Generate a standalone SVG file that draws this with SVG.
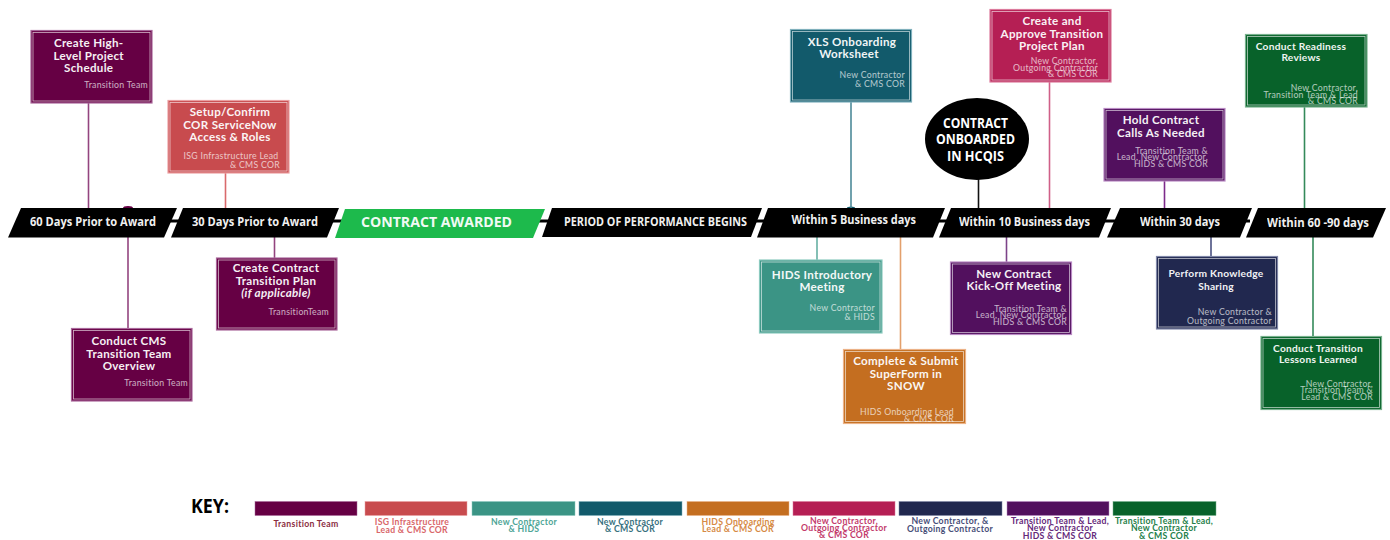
<svg xmlns="http://www.w3.org/2000/svg" width="1390" height="540" viewBox="0 0 1390 540">
<style>
text{font-family:Lato,"Liberation Sans",sans-serif}
.t{font-size:11.6px;letter-spacing:.3px;font-weight:700;fill:#fff;text-anchor:middle;opacity:.94}
.ts{font-size:10.2px;letter-spacing:.25px}
.s{font-size:8.7px;letter-spacing:.3px;fill:#fff;opacity:.68;text-anchor:end}
.o{stroke-width:1.2}
.i{fill:none;stroke:#fff;stroke-width:.8;stroke-opacity:.7}
.bar{font-family:"Open Sans","Liberation Sans",sans-serif;font-weight:700;fill:#fff;font-size:12.5px;opacity:.94}
.c{font-family:"Open Sans","Liberation Sans",sans-serif;font-weight:700;fill:#fff;font-size:14.5px}
.k{font-size:8.7px;letter-spacing:.3px;font-weight:700;text-anchor:middle}
.l{fill:none;stroke-width:1.6}
.a{fill:#660044;stroke:#a8679a}
.b{fill:#c84b4e;stroke:#eba0a2}
.d{fill:#3b9485;stroke:#8ccabf}
.e{fill:#125a6b;stroke:#7fb0bc}
.f{fill:#c46e20;stroke:#ecb287}
.g{fill:#b51f54;stroke:#dc7a9c}
.h{fill:#21284f;stroke:#8087a8}
.j{fill:#52105e;stroke:#b98ac4}
.m{fill:#08622a;stroke:#77b18d}
</style>
<g id="connectors">
<line x1="160" y1="221" x2="1250" y2="221" stroke="#000" stroke-width="3"/>
<ellipse cx="128" cy="208" rx="5" ry="2" fill="#660044"/>
<ellipse cx="851" cy="208" rx="4" ry="1.5" fill="#125a6b"/>
<line class="l" x1="88.500" y1="103" x2="88.500" y2="208" stroke="#93457f"/>
<line class="l" x1="128" y1="237" x2="128" y2="328" stroke="#93457f"/>
<line class="l" x1="225.500" y1="173" x2="225.500" y2="208" stroke="#d96a6c"/>
<line class="l" x1="274.500" y1="237" x2="274.500" y2="258" stroke="#93457f"/>
<line class="l" x1="851" y1="102" x2="851" y2="208" stroke="#4d8a99"/>
<line class="l" x1="817" y1="237" x2="817" y2="260" stroke="#66b0a3"/>
<line class="l" x1="900.500" y1="237" x2="900.500" y2="349" stroke="#e3a06c"/>
<line class="l" x1="978.500" y1="178" x2="978.500" y2="208" stroke="#111"/>
<line class="l" x1="1049.500" y1="82" x2="1049.500" y2="208" stroke="#cf5f88"/>
<line class="l" x1="1006.500" y1="237" x2="1006.500" y2="262" stroke="#7d4389"/>
<line class="l" x1="1164.500" y1="181" x2="1164.500" y2="208" stroke="#7d2b8b"/>
<line class="l" x1="1211" y1="237" x2="1211" y2="256" stroke="#4a5180"/>
<line class="l" x1="1304.500" y1="107" x2="1304.500" y2="208" stroke="#348a5a"/>
<line class="l" x1="1313" y1="237" x2="1313" y2="336" stroke="#348a5a"/>
</g>
<g id="bar-60">
<polygon points="21,208 177,208 164,237.500 8,237.500" fill="#000"/>
<text class="bar" x="30" y="225.500" textLength="126" lengthAdjust="spacingAndGlyphs">60 Days Prior to Award</text></g>
<g id="bar-30">
<polygon points="183,208 339,208 327,237.500 171,237.500" fill="#000"/>
<text class="bar" x="192" y="225.500" textLength="126" lengthAdjust="spacingAndGlyphs">30 Days Prior to Award</text></g>
<g id="bar-awarded">
<polygon points="345,209 545,209 533,238 335,238" fill="#1dba4c"/>
<text class="bar" x="361" y="227" style="font-size:15px" textLength="151" lengthAdjust="spacingAndGlyphs">CONTRACT AWARDED</text></g>
<g id="bar-period">
<polygon points="552,208 762,208 751,237 542,237" fill="#000"/>
<text class="bar" x="564" y="226" style="font-size:12px" textLength="183" lengthAdjust="spacingAndGlyphs">PERIOD OF PERFORMANCE BEGINS</text></g>
<g id="bar-5">
<polygon points="768,208 945,208 933,237.500 757,237.500" fill="#000"/>
<text class="bar" x="791.500" y="224" textLength="124.500" lengthAdjust="spacingAndGlyphs">Within 5 Business days</text></g>
<g id="bar-10">
<polygon points="951,208 1111,208 1099,237.500 939,237.500" fill="#000"/>
<text class="bar" x="959" y="225.500" textLength="131" lengthAdjust="spacingAndGlyphs">Within 10 Business days</text></g>
<g id="bar-30d">
<polygon points="1120,208 1252,208 1240,237.500 1107,237.500" fill="#000"/>
<text class="bar" x="1140" y="226" textLength="80" lengthAdjust="spacingAndGlyphs">Within 30 days</text></g>
<g id="bar-60-90">
<polygon points="1258,208 1386,208 1373,237.500 1246,237.500" fill="#000"/>
<text class="bar" x="1267" y="227" textLength="102" lengthAdjust="spacingAndGlyphs">Within 60 -90 days</text></g>
<g id="onboarded">
<ellipse cx="977" cy="139" rx="52" ry="41" fill="#000"/>
<text class="c" x="943" y="128" textLength="65" lengthAdjust="spacingAndGlyphs">CONTRACT</text>
<text class="c" x="936" y="144" textLength="79" lengthAdjust="spacingAndGlyphs">ONBOARDED</text>
<text class="c" x="947" y="161" textLength="57" lengthAdjust="spacingAndGlyphs">IN HCQIS</text>
</g>
<g id="n-schedule"><rect class="o a" x="31" y="30.500" width="121" height="72.500"/><rect class="i" x="33" y="32.500" width="117" height="68.500"/>
<text class="t" x="88.700" y="47">Create High-</text><text class="t" x="88.700" y="59.500">Level Project</text><text class="t" x="88.700" y="72">Schedule</text>
<text class="s" x="148" y="88">Transition Team</text></g>
<g id="n-overview"><rect class="o a" x="71.500" y="328.500" width="120.500" height="72.500"/><rect class="i" x="73.500" y="330.500" width="116.500" height="68.500"/>
<text class="t" x="129" y="345">Conduct CMS</text><text class="t" x="129" y="357.500">Transition Team</text><text class="t" x="129" y="370">Overview</text>
<text class="s" x="188" y="386">Transition Team</text></g>
<g id="n-access"><rect class="o b" x="168" y="100.500" width="121" height="72.500"/><rect class="i" x="170" y="102.500" width="117" height="68.500"/>
<text class="t" x="230" y="116">Setup/Confirm</text><text class="t" x="230" y="128.500">COR ServiceNow</text><text class="t" x="230" y="141">Access &amp; Roles</text>
<text class="s" x="278.500" y="159">ISG Infrastructure Lead</text><text class="s" x="280" y="167.500">&amp; CMS COR</text></g>
<g id="n-plan"><rect class="o a" x="216.500" y="258" width="120.500" height="72"/><rect class="i" x="218.500" y="260" width="116.500" height="68"/>
<text class="t" x="276" y="272">Create Contract</text><text class="t" x="276" y="284.500">Transition Plan</text><text class="t" x="276" y="297" font-style="italic">(if applicable)</text>
<text class="s" x="329" y="315">TransitionTeam</text></g>
<g id="n-xls"><rect class="o e" x="790.500" y="29.500" width="121" height="72.500"/><rect class="i" x="792.500" y="31.500" width="117" height="68.500"/>
<text class="t" x="852" y="46">XLS Onboarding</text><text class="t" x="849" y="58">Worksheet</text>
<text class="s" x="905" y="78">New Contractor</text><text class="s" x="905" y="87">&amp; CMS COR</text></g>
<g id="n-hids"><rect class="o d" x="759.500" y="260" width="122.500" height="73"/><rect class="i" x="761.500" y="262" width="118.500" height="69"/>
<text class="t" x="822" y="279">HIDS Introductory</text><text class="t" x="822" y="291">Meeting</text>
<text class="s" x="875" y="311">New Contractor</text><text class="s" x="875" y="320">&amp; HIDS</text></g>
<g id="n-superform"><rect class="o f" x="843.500" y="349.500" width="122" height="74"/><rect class="i" x="845.500" y="351.500" width="118" height="70"/>
<text class="t" x="906" y="365">Complete &amp; Submit</text><text class="t" x="906" y="378">SuperForm in</text><text class="t" x="906" y="390">SNOW</text>
<text class="s" x="954" y="415">HIDS Onboarding Lead</text><text class="s" x="954" y="422">&amp; CMS COR</text></g>
<g id="n-kickoff"><rect class="o j" x="950.500" y="262" width="121" height="72.500"/><rect class="i" x="952.500" y="264" width="117" height="68.500"/>
<text class="t" x="1014" y="278">New Contract</text><text class="t" x="1014" y="290">Kick-Off Meeting</text>
<text class="s" x="1067" y="311.500">Transition Team &amp;</text><text class="s" x="1067" y="318">Lead, New Contractor,</text><text class="s" x="1067" y="324.500">HIDS &amp; CMS COR</text></g>
<g id="n-approve"><rect class="o g" x="990" y="9.500" width="121" height="72.500"/><rect class="i" x="992" y="11.500" width="117" height="68.500"/>
<text class="t" x="1052" y="25">Create and</text><text class="t" x="1052" y="37.500">Approve Transition</text><text class="t" x="1052" y="50">Project Plan</text>
<text class="s" x="1098" y="64">New Contractor,</text><text class="s" x="1098" y="70.500">Outgoing Contractor</text><text class="s" x="1098" y="77">&amp; CMS COR</text></g>
<g id="n-calls"><rect class="o j" x="1104" y="108.500" width="121" height="72.500"/><rect class="i" x="1106" y="110.500" width="117" height="68.500"/>
<text class="t" x="1161" y="124">Hold Contract</text><text class="t" x="1161" y="137">Calls As Needed</text>
<text class="s" x="1208" y="153.500">Transition Team &amp;</text><text class="s" x="1208" y="160">Lead, New Contractor,</text><text class="s" x="1208" y="166.500">HIDS &amp; CMS COR</text></g>
<g id="n-sharing"><rect class="o h" x="1156.500" y="256.500" width="121" height="72.500"/><rect class="i" x="1158.500" y="258.500" width="117" height="68.500"/>
<text class="t ts" x="1216" y="277">Perform Knowledge</text><text class="t ts" x="1216" y="290">Sharing</text>
<text class="s" x="1272" y="314.500">New Contractor &amp;</text><text class="s" x="1272" y="324">Outgoing Contractor</text></g>
<g id="n-readiness"><rect class="o m" x="1245.500" y="34.500" width="121.500" height="72.500"/><rect class="i" x="1247.500" y="36.500" width="117.500" height="68.500"/>
<text class="t ts" x="1301" y="50">Conduct Readiness</text><text class="t ts" x="1301" y="60.500">Reviews</text>
<text class="s" x="1358" y="91">New Contractor,</text><text class="s" x="1358" y="97.500">Transition Team &amp; Lead</text><text class="s" x="1358" y="104">&amp; CMS COR</text></g>
<g id="n-lessons"><rect class="o m" x="1261" y="336.500" width="120.500" height="73"/><rect class="i" x="1263" y="338.500" width="116.500" height="69"/>
<text class="t ts" x="1318" y="352">Conduct Transition</text><text class="t ts" x="1318" y="362.500">Lessons Learned</text>
<text class="s" x="1373" y="386.500">New Contractor,</text><text class="s" x="1373" y="393">Transition Team &amp;</text><text class="s" x="1373" y="399.500">Lead &amp; CMS COR</text></g>
<g id="key">
<text x="191" y="513" style="font-family:'Open Sans','Liberation Sans',sans-serif;font-weight:700;font-size:19px" textLength="38" lengthAdjust="spacingAndGlyphs">KEY:</text>
<rect class="a" stroke-width=".5" x="255" y="501.500" width="102" height="14"/>
<rect class="b" stroke-width=".5" x="365" y="501.500" width="102" height="14"/>
<rect class="d" stroke-width=".5" x="472" y="501.500" width="103" height="14"/>
<rect class="e" stroke-width=".5" x="579" y="501.500" width="103" height="14"/>
<rect class="f" stroke-width=".5" x="687" y="501.500" width="102" height="14"/>
<rect class="g" stroke-width=".5" x="793" y="501.500" width="102" height="14"/>
<rect class="h" stroke-width=".5" x="899" y="501.500" width="103" height="14"/>
<rect class="j" stroke-width=".5" x="1007" y="501.500" width="102" height="14"/>
<rect class="m" stroke-width=".5" x="1113" y="501.500" width="103" height="14"/>
<text class="k" fill="#8b2d3f" x="306" y="527">Transition Team</text>
<g fill="#d9666a"><text class="k" x="412" y="525">ISG Infrastructure</text><text class="k" x="412" y="532.500">Lead &amp; CMS COR</text></g>
<g fill="#4ea596"><text class="k" x="524" y="525">New Contractor</text><text class="k" x="524" y="532">&amp; HIDS</text></g>
<g fill="#37707e"><text class="k" x="630" y="525">New Contractor</text><text class="k" x="630" y="532">&amp; CMS COR</text></g>
<g fill="#d68a45"><text class="k" x="738" y="525">HIDS Onboarding</text><text class="k" x="738" y="532">Lead &amp; CMS COR</text></g>
<g fill="#c33a6c"><text class="k" x="844" y="524">New Contractor,</text><text class="k" x="844" y="531">Outgoing Contractor</text><text class="k" x="844" y="538">&amp; CMS COR</text></g>
<g fill="#474e78"><text class="k" x="950" y="524">New Contractor, &amp;</text><text class="k" x="950" y="531.500">Outgoing Contractor</text></g>
<g fill="#65287a"><text class="k" x="1060" y="524">Transition Team &amp; Lead,</text><text class="k" x="1060" y="531">New Contractor</text><text class="k" x="1060" y="538.500">HIDS &amp; CMS COR</text></g>
<g fill="#25804a"><text class="k" x="1164" y="524">Transition Team &amp; Lead,</text><text class="k" x="1164" y="531">New Contractor</text><text class="k" x="1164" y="538.500">&amp; CMS COR</text></g>
</g>
</svg>
